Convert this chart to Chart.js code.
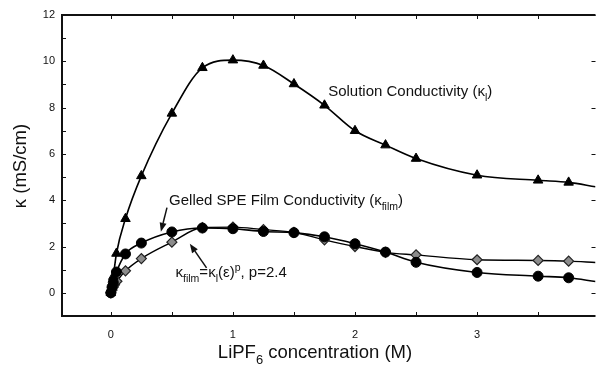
<!DOCTYPE html>
<html>
<head>
<meta charset="utf-8">
<script src="https://cdn.jsdelivr.net/npm/chart.js@4.4.1/dist/chart.umd.min.js"></script>
<style>
  html, body { margin: 0; padding: 0; background: #fff; overflow: hidden; }
  canvas { display: block; }
</style>
</head>
<body>
<canvas id="kappaChart" width="602" height="367"></canvas>
<script>
// LiPF6 concentration (M) and conductivity (mS/cm)
const solutionConc  = [0, 0.01, 0.02, 0.046, 0.12, 0.25, 0.5, 0.75, 1.0, 1.25, 1.5, 1.75, 2.0, 2.25, 2.5, 3.0, 3.5, 3.75];
const solutionKappa = [0, 0.35, 0.7, 1.7, 3.2, 5.05, 7.75, 9.72, 10.05, 9.82, 9.02, 8.1, 7.0, 6.38, 5.8, 5.08, 4.86, 4.77];

const filmConc  = [0, 0.01, 0.02, 0.046, 0.12, 0.25, 0.5, 0.75, 1.0, 1.25, 1.5, 1.75, 2.0, 2.25, 2.5, 3.0, 3.5, 3.75];
const filmKappa = [0, 0.25, 0.45, 0.9, 1.68, 2.15, 2.63, 2.8, 2.77, 2.65, 2.6, 2.42, 2.12, 1.76, 1.32, 0.88, 0.72, 0.65];

const modelConc  = [0, 0.01, 0.02, 0.03, 0.05, 0.12, 0.25, 0.5, 0.75, 1.0, 1.25, 1.5, 1.75, 2.0, 2.25, 2.5, 3.0, 3.5, 3.75];
const modelKappa = [0, 0.12, 0.25, 0.35, 0.5, 0.95, 1.48, 2.19, 2.82, 2.84, 2.73, 2.61, 2.29, 2.0, 1.75, 1.64, 1.43, 1.4, 1.37];

// where the fitted curves leave the plot on the right
const curveEndConc = 3.97;
const solutionEnd = 4.58;
const filmEnd = 0.49;
const modelEnd = 1.31;

const xTickValues = [0, 0.5, 1, 1.5, 2, 2.5, 3, 3.5];
const yTickValues = [0, 1, 2, 3, 4, 5, 6, 7, 8, 9, 10, 11, 12];

const FONT = '"Liberation Sans", Arial, Helvetica, sans-serif';

function toPoints(xs, ys, endY) {
  const pts = xs.map((x, i) => ({ x: x, y: ys[i] }));
  pts.push({ x: curveEndConc, y: endY });
  return pts;
}

// hide the marker on the curve's tail point
const markerRadius = r => c => c.dataIndex === c.dataset.data.length - 1 ? 0 : r;

// text with sub/superscripts: parts = [[text, 'sub'|'sup'|undefined], ...]
function drawRich(ctx, parts, x, y, size, align) {
  const widths = parts.map(([t, m]) => {
    ctx.font = (m ? size * 0.7 : size) + 'px ' + FONT;
    return ctx.measureText(t).width;
  });
  const total = widths.reduce((a, b) => a + b, 0);
  let cx = align === 'center' ? x - total / 2 : x;
  ctx.textBaseline = 'alphabetic';
  ctx.textAlign = 'left';
  parts.forEach(([t, m], i) => {
    ctx.font = (m ? size * 0.7 : size) + 'px ' + FONT;
    let dy = 0;
    if (m === 'sub') dy = size * 0.3;
    if (m === 'sup') dy = -size * 0.42;
    ctx.fillText(t, cx, y + dy);
    cx += widths[i];
  });
}

function arrow(ctx, x1, y1, x2, y2) {
  const ang = Math.atan2(y2 - y1, x2 - x1);
  const len = 9, half = 3.5;
  const bx = x2 - len * Math.cos(ang), by = y2 - len * Math.sin(ang);
  ctx.beginPath();
  ctx.moveTo(x1, y1);
  ctx.lineTo(bx, by);
  ctx.stroke();
  ctx.beginPath();
  ctx.moveTo(x2, y2);
  ctx.lineTo(bx + half * Math.sin(ang), by - half * Math.cos(ang));
  ctx.lineTo(bx - half * Math.sin(ang), by + half * Math.cos(ang));
  ctx.closePath();
  ctx.fill();
}

const frameAndNotes = {
  id: 'frameAndNotes',
  afterDraw(chart) {
    const { ctx, chartArea: a, scales: { x, y } } = chart;
    const w = a.right - a.left, h = a.bottom - a.top;
    ctx.save();
    ctx.fillStyle = '#111';
    ctx.strokeStyle = '#111';

    // plot frame: left, top and bottom edges
    ctx.fillRect(a.left - 1, a.top - 1, 2, h + 2);
    ctx.fillRect(a.left - 1, a.top - 1, w + 1, 2);
    ctx.fillRect(a.left - 1, a.bottom - 1, w + 1, 2);

    // inward tick marks on all sides
    ctx.lineWidth = 1;
    ctx.beginPath();
    xTickValues.forEach(v => {
      const px = Math.round(x.getPixelForValue(v)) + 0.5;
      ctx.moveTo(px, a.bottom); ctx.lineTo(px, a.bottom - 4);
      ctx.moveTo(px, a.top); ctx.lineTo(px, a.top + 4);
    });
    yTickValues.forEach(v => {
      const py = Math.round(y.getPixelForValue(v)) + 0.5;
      ctx.moveTo(a.left, py); ctx.lineTo(a.left + 4, py);
      if (v % 2 === 0) { ctx.moveTo(a.right, py); ctx.lineTo(a.right - 4, py); }
    });
    ctx.stroke();

    ctx.lineWidth = 1.5;

    // axis titles
    drawRich(ctx, [['LiPF'], ['6', 'sub'], [' concentration (M)']], 315, 358, 18.5, 'center');
    ctx.save();
    ctx.translate(26, 166);
    ctx.rotate(-Math.PI / 2);
    drawRich(ctx, [['κ (mS/cm)']], 0, 0, 18.5, 'center');
    ctx.restore();

    // curve labels
    drawRich(ctx, [['Solution Conductivity ('], ['κ'], ['l', 'sub'], [')']],
      x.getPixelForValue(1.78), y.getPixelForValue(8.5), 15);
    drawRich(ctx, [['Gelled SPE Film Conductivity ('], ['κ'], ['film', 'sub'], [')']],
      x.getPixelForValue(0.477), y.getPixelForValue(3.78), 15);
    drawRich(ctx, [['κ'], ['film', 'sub'], ['=κ'], ['l', 'sub'], ['(ε)'], ['p', 'sup'], [', p=2.4']],
      x.getPixelForValue(0.53), y.getPixelForValue(0.68), 15);

    arrow(ctx, x.getPixelForValue(0.46), y.getPixelForValue(3.68),
               x.getPixelForValue(0.41), y.getPixelForValue(2.64));
    arrow(ctx, x.getPixelForValue(0.784), y.getPixelForValue(1.08),
               x.getPixelForValue(0.647), y.getPixelForValue(2.12));
    ctx.restore();
  }
};

const tickFont = { family: FONT, size: 11 };

new Chart(document.getElementById('kappaChart'), {
  type: 'line',
  data: {
    datasets: [
      {
        label: 'Solution Conductivity',
        data: toPoints(solutionConc, solutionKappa, solutionEnd),
        borderColor: '#000',
        backgroundColor: '#000',
        borderWidth: 1.6,
        pointStyle: 'triangle',
        pointRadius: markerRadius(5.5),
        pointBorderWidth: 1,
        cubicInterpolationMode: 'monotone'
      },
      {
        label: 'Gelled SPE Film Conductivity',
        data: toPoints(filmConc, filmKappa, filmEnd),
        borderColor: '#000',
        backgroundColor: '#000',
        borderWidth: 1.6,
        pointStyle: 'circle',
        pointRadius: markerRadius(5),
        pointBorderWidth: 1,
        cubicInterpolationMode: 'monotone'
      },
      {
        label: 'Model',
        data: toPoints(modelConc, modelKappa, modelEnd),
        borderColor: '#000',
        backgroundColor: '#8c8c8c',
        pointBorderColor: '#222',
        borderWidth: 1.4,
        pointStyle: 'rectRot',
        pointRadius: markerRadius(5),
        pointBorderWidth: 1.2,
        cubicInterpolationMode: 'monotone'
      }
    ]
  },
  options: {
    responsive: false,
    animation: false,
    layout: { padding: { top: 15, right: 0, left: 0, bottom: 0 } },
    plugins: { legend: { display: false }, tooltip: { enabled: false } },
    scales: {
      x: {
        type: 'linear',
        min: -0.4,
        max: 3.97,
        afterBuildTicks: s => { s.ticks = xTickValues.map(v => ({ value: v })); },
        afterFit: s => { s.height = 51; },
        grid: { display: false, drawTicks: false },
        border: { display: false },
        ticks: {
          callback: v => Number.isInteger(v) ? String(v) : '',
          autoSkip: false,
          maxRotation: 0,
          padding: 12,
          color: '#111',
          font: tickFont
        }
      },
      y: {
        type: 'linear',
        min: -1,
        max: 12,
        afterBuildTicks: s => { s.ticks = yTickValues.map(v => ({ value: v })); },
        afterFit: s => { s.width = 62; },
        grid: { display: false, drawTicks: false },
        border: { display: false },
        ticks: {
          callback: v => v % 2 === 0 ? String(v) : '',
          autoSkip: false,
          padding: 7,
          color: '#111',
          font: tickFont
        }
      }
    }
  },
  plugins: [frameAndNotes]
});
</script>
</body>
</html>
